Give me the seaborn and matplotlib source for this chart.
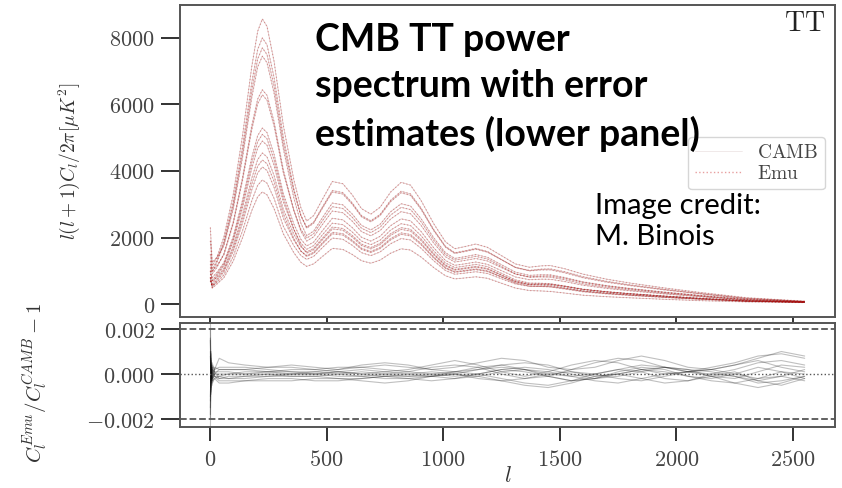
import matplotlib
matplotlib.use("Agg")
import matplotlib.pyplot as plt
from matplotlib.lines import Line2D
import seaborn as sns
import pandas as pd

ell = [2, 10, 30, 60, 100, 140, 180, 205, 225, 245, 275, 315, 360, 390, 415, 445, 480, 525, 570, 610,
       650, 690, 730, 775, 820, 860, 905, 960, 1010, 1050, 1095, 1140, 1190, 1250, 1310, 1370, 1420,
       1460, 1520, 1600, 1700, 1800, 1950, 2100, 2300, 2550]

# l(l+1)C_l/2pi [muK^2] for each parameter set (CAMB and Emu agree to ~1e-4 here)
tt_01 = [1900, 1150, 1400, 2014, 3282, 5065, 7156, 8201, 8570, 8347, 7302, 5365, 3733, 2898, 2494, 2660,
         3117, 3683, 3616, 3284, 2868, 2702, 2910, 3367, 3658, 3575, 3117, 2411, 1870, 1663, 1729, 1804,
         1704, 1455, 1205, 1106, 1147, 1156, 1064, 898, 748, 632, 482, 349, 190, 85]
tt_02 = [1500, 1050, 1300, 1880, 3064, 4728, 6680, 7656, 8000, 7792, 6816, 5008, 3461, 2668, 2280, 2432,
         2850, 3367, 3306, 3002, 2622, 2470, 2660, 3078, 3344, 3268, 2850, 2204, 1710, 1520, 1581, 1649,
         1558, 1330, 1102, 1011, 1049, 1056, 973, 821, 684, 578, 441, 319, 170, 80]
tt_03 = [1200, 950, 1250, 1810, 2949, 4551, 6430, 7369, 7700, 7500, 6560, 4820, 3388, 2657, 2310, 2464,
         2888, 3411, 3350, 3042, 2657, 2503, 2695, 3119, 3388, 3311, 2888, 2233, 1733, 1540, 1602, 1671,
         1579, 1338, 1097, 996, 1026, 1027, 941, 790, 658, 556, 424, 307, 160, 75]
tt_04 = [2300, 1250, 1400, 1751, 2853, 4403, 6221, 7130, 7450, 7256, 6347, 4664, 3190, 2433, 2056, 2193,
         2570, 3036, 2981, 2707, 2365, 2228, 2399, 2776, 3016, 2947, 2570, 1988, 1542, 1371, 1426, 1487,
         1405, 1181, 959, 862, 880, 877, 798, 666, 555, 469, 358, 259, 140, 70]
tt_05 = [1100, 900, 1100, 1513, 2467, 3806, 5377, 6163, 6440, 6273, 5487, 4031, 2815, 2192, 1893, 2020,
         2367, 2796, 2745, 2493, 2177, 2051, 2209, 2556, 2777, 2714, 2367, 1830, 1420, 1262, 1313, 1369,
         1294, 1096, 899, 816, 841, 842, 772, 648, 540, 456, 348, 252, 130, 70]
tt_06 = [1300, 1000, 1150, 1478, 2409, 3717, 5252, 6020, 6290, 6126, 5359, 3938, 2814, 2243, 1982, 2114,
         2477, 2926, 2873, 2609, 2279, 2147, 2312, 2675, 2906, 2840, 2477, 1915, 1486, 1321, 1374, 1433,
         1354, 1130, 908, 806, 815, 808, 731, 606, 505, 427, 326, 236, 120, 65]
tt_07 = [900, 800, 950, 1243, 2026, 3126, 4417, 5063, 5290, 5152, 4507, 3312, 2405, 1947, 1746, 1862,
         2182, 2578, 2531, 2299, 2008, 1891, 2037, 2357, 2560, 2502, 2182, 1688, 1309, 1164, 1210, 1263,
         1193, 1003, 814, 731, 747, 744, 678, 565, 471, 398, 304, 220, 115, 60]
tt_08 = [1000, 700, 900, 1199, 1953, 3014, 4259, 4881, 5100, 4967, 4345, 3193, 2244, 1760, 1530, 1632,
         1913, 2259, 2219, 2015, 1760, 1658, 1785, 2066, 2244, 2193, 1913, 1479, 1148, 1020, 1061, 1107,
         1046, 866, 688, 603, 605, 596, 535, 441, 367, 310, 237, 171, 95, 55]
tt_09 = [800, 600, 850, 1152, 1877, 2896, 4092, 4689, 4900, 4773, 4175, 3067, 2242, 1826, 1646, 1756,
         2058, 2431, 2387, 2168, 1893, 1784, 1921, 2223, 2415, 2360, 2058, 1592, 1235, 1098, 1142, 1191,
         1125, 924, 726, 630, 625, 610, 544, 445, 371, 313, 239, 173, 95, 55]
tt_10 = [1000, 700, 800, 1067, 1739, 2683, 3791, 4345, 4540, 4422, 3868, 2842, 2097, 1723, 1566, 1671,
         1958, 2313, 2271, 2062, 1801, 1697, 1827, 2115, 2297, 2245, 1958, 1514, 1175, 1044, 1086, 1133,
         1070, 873, 678, 580, 569, 552, 488, 395, 329, 278, 212, 153, 85, 50]
tt_11 = [700, 550, 750, 1018, 1658, 2559, 3616, 4144, 4330, 4217, 3689, 2711, 1969, 1594, 1429, 1524,
         1786, 2110, 2072, 1881, 1643, 1548, 1667, 1929, 2096, 2048, 1786, 1381, 1072, 953, 991, 1034,
         976, 815, 655, 581, 588, 583, 528, 437, 365, 308, 235, 170, 95, 55]
tt_12 = [800, 500, 700, 968, 1578, 2435, 3440, 3943, 4120, 4013, 3510, 2579, 1921, 1592, 1459, 1556,
         1823, 2154, 2115, 1920, 1677, 1580, 1702, 1969, 2139, 2091, 1823, 1410, 1094, 972, 1011, 1055,
         997, 813, 631, 540, 530, 514, 454, 368, 306, 259, 197, 143, 80, 50]
tt_13 = [700, 550, 650, 877, 1429, 2204, 3115, 3570, 3730, 3633, 3178, 2335, 1751, 1458, 1343, 1432,
         1679, 1983, 1947, 1768, 1544, 1455, 1567, 1813, 1969, 1925, 1679, 1298, 1007, 895, 931, 971,
         918, 760, 604, 530, 531, 522, 470, 387, 322, 272, 208, 150, 85, 50]
tt_14 = [800, 480, 600, 792, 1291, 1992, 2814, 3225, 3370, 3282, 2871, 2110, 1542, 1256, 1132, 1208,
         1415, 1672, 1642, 1491, 1302, 1227, 1321, 1528, 1661, 1623, 1415, 1094, 849, 755, 785, 819,
         774, 625, 480, 405, 393, 378, 331, 265, 221, 187, 142, 103, 65, 45]

# relative error Emu/CAMB - 1, in units of 1e-4
ell_res = [2, 5, 10, 20, 40, 80, 150, 250, 350, 450, 550, 650, 750, 850, 950, 1050, 1150, 1250, 1350, 1450,
           1550, 1650, 1750, 1850, 1950, 2050, 2150, 2250, 2350, 2450, 2550]
res_01 = [30, -8, 4, 2, 7, 5, 4, 3, 3, 2, 3, 3, 2, 1, 0, -1, 0, 2, 3, 2, 0, -2, -1, 1, 3, 2, -1, -2, 1, 4, 3]
res_02 = [-30, 9, -4, -2, -1, 0, 1, 1, 2, 2, 1, 0, 1, 2, 4, 6, 4, 1, -1, 1, 4, 6, 5, 2, 0, 1, 3, 5, 8, 9, 7]
res_03 = [15, -6, 3, -1, -3, -3, -3, -2, -2, -3, -3, -2, -1, -2, -3, -2, 0, 2, 1, -1, -3, -2, 0, 2, 1, -1, -3, -4, -2, 1, 0]
res_04 = [-18, 10, -5, 3, 2, 2, 2, 3, 4, 3, 2, 3, 4, 3, 2, 3, 5, 7, 6, 3, 2, 3, 6, 8, 6, 3, 2, 4, 6, 3, 1]
res_05 = [10, -4, 2, 1, -2, -2, -1, -1, 0, 0, 1, 0, -1, -1, 0, 1, 0, -2, -4, -5, -3, 0, 2, 1, -2, -3, -1, 1, -3, -5, -2]
res_06 = [-12, 5, -3, -2, -4, -4, -3, -3, -3, -2, -2, -3, -4, -3, -1, 0, -1, -3, -5, -6, -4, -1, 0, -2, -4, -3, 0, -1, -4, -3, -1]
res_07 = [20, -9, 5, 1, 1, 1, 0, 0, -1, -1, 0, 1, 0, -1, -1, 0, 2, 3, 2, 0, -1, 0, 2, 4, 3, 1, 0, 2, 5, 6, 4]
res_08 = [-20, 7, -3, 2, 3, 3, 3, 2, 1, 1, 2, 4, 5, 4, 2, 1, 2, 4, 5, 4, 1, -1, 0, 2, 3, 2, 1, -1, -3, -1, 2]
res_09 = [8, -3, 1, -1, -1, -2, -2, -1, -1, -1, -2, -2, -1, 0, 1, 0, -2, -3, -2, 0, 1, 0, -2, -3, -1, 1, 2, 0, -2, -1, -3]
res_10 = [-10, 4, -2, 0, 0, 0, 0, 1, 1, 0, -1, -1, 0, 1, 3, 4, 3, 0, -2, -1, 2, 5, 7, 6, 3, 1, 2, 4, 7, 10, 8]
res_11 = [16, -7, 3, 0, 2, 2, 2, 1, 0, 0, 1, 2, 1, 0, -1, -2, -1, 1, 2, 1, -1, -3, -4, -2, 0, 1, -1, -4, -6, -4, -1]
res_12 = [-15, 6, -2, -1, -2, -1, -1, 0, 0, 1, 0, -1, -2, -2, -1, 1, 3, 4, 2, -1, -3, -2, 1, 3, 2, -1, -2, 0, 3, 1, -2]

spectra = [tt_01, tt_02, tt_03, tt_04, tt_05, tt_06, tt_07, tt_08, tt_09, tt_10, tt_11, tt_12, tt_13, tt_14]
residuals = [res_01, res_02, res_03, res_04, res_05, res_06, res_07, res_08, res_09, res_10, res_11, res_12]

df_tt = pd.DataFrame([(i, l, v) for i, s in enumerate(spectra) for l, v in zip(ell, s)],
                     columns=["curve", "ell", "D"])
df_res = pd.DataFrame([(i, l, v * 1e-4) for i, r in enumerate(residuals) for l, v in zip(ell_res, r)],
                      columns=["curve", "ell", "res"])

sns.set_theme(style="ticks")
plt.rcParams["mathtext.fontset"] = "cm"
plt.rcParams["font.family"] = ["DejaVu Serif"]

fig = plt.figure(figsize=(8.42, 4.88), dpi=100)
ax1 = fig.add_axes([0.2138, 0.3504, 0.7779, 0.6394])
ax2 = fig.add_axes([0.2138, 0.1256, 0.7779, 0.2131])

# upper panel: spectra, CAMB thin solid + Emu dotted on top
sns.lineplot(data=df_tt, x="ell", y="D", units="curve", estimator=None, ax=ax1,
             color="#5a0000", lw=0.5, alpha=0.25, legend=False)
sns.lineplot(data=df_tt, x="ell", y="D", units="curve", estimator=None, ax=ax1,
             color="#c00000", lw=0.9, alpha=0.3, linestyle=":", legend=False)
ax1.set_xlim(-128, 2680)
ax1.set_ylim(-390, 8990)
ax1.set_yticks([0, 2000, 4000, 6000, 8000])
ax1.set_yticklabels([r"$%d$" % v for v in [0, 2000, 4000, 6000, 8000]])
ax1.set_xticks([0, 500, 1000, 1500, 2000, 2500])
ax1.set_xticklabels([])
ax1.set_xlabel("")
ax1.set_ylabel(r"$l(l+1)C_l/2\pi[\mu K^2]$", fontsize=14, color="#333333")
ax1.yaxis.set_label_coords(-0.15, 0.5)
ax1.text(0.985, 0.985, r"$\mathrm{TT}$", transform=ax1.transAxes, ha="right", va="top",
         fontsize=20, color="#222222")
handles = [Line2D([], [], color="#5a0000", lw=0.5, alpha=0.12),
           Line2D([], [], color="#d04040", lw=1.0, alpha=0.5, linestyle=":")]
leg = ax1.legend(handles, [r"$\mathrm{CAMB}$", r"$\mathrm{Emu}$"], loc="upper right",
                 bbox_to_anchor=(0.985, 0.577), borderaxespad=0, fontsize=14, frameon=True,
                 handlelength=2.4, borderpad=0.35, labelspacing=0.15, fancybox=True)
leg.get_frame().set_edgecolor("#cccccc")
for t in leg.get_texts():
    t.set_color("#444444")

# lower panel: relative error
sns.lineplot(data=df_res, x="ell", y="res", units="curve", estimator=None, ax=ax2,
             color="black", lw=0.8, alpha=0.25, legend=False)
ax2.axhline(0.002, color="#555555", lw=1.3, linestyle="--")
ax2.axhline(-0.002, color="#555555", lw=1.3, linestyle="--")
ax2.axhline(0.0, color="#555555", lw=1.0, linestyle=":")
ax2.set_xlim(-128, 2680)
ax2.set_ylim(-0.00234, 0.00228)
ax2.set_yticks([-0.002, 0.0, 0.002])
ax2.set_yticklabels([r"$%.3f$" % v for v in [-0.002, 0.0, 0.002]])
ax2.set_xticks([0, 500, 1000, 1500, 2000, 2500])
ax2.set_xticklabels([r"$%d$" % v for v in [0, 500, 1000, 1500, 2000, 2500]])
ax2.set_xlabel(r"$l$", fontsize=16, color="#333333")
ax2.xaxis.set_label_coords(0.5, -0.37)
ax2.set_ylabel(r"$C_l^{Emu}/C_l^{CAMB}-1$", fontsize=15, color="#333333")
ax2.yaxis.set_label_coords(-0.2, 0.42)

for ax in (ax1, ax2):
    for sp in ax.spines.values():
        sp.set_color("#555555")
        sp.set_linewidth(1.4)
        sp.set_visible(True)
    ax.tick_params(axis="y", direction="out", length=14, width=1.3, color="#222222",
                   labelsize=16, labelcolor="#444444", pad=4)
    ax.tick_params(axis="x", direction="out", length=10, width=1.3, color="#222222",
                   labelsize=16, labelcolor="#444444", pad=6)
    ax.grid(False)

# slide overlay text
fig.text(315 / 842, 1 - 23 / 488, "CMB TT power\nspectrum with error\nestimates (lower panel)",
         fontsize=27, fontweight="bold", family=["Lato", "DejaVu Sans"], ha="left", va="top",
         linespacing=1.42, color="black")
fig.text(595 / 842, 1 - 193 / 488, "Image credit:\nM. Binois", fontsize=21,
         family=["Lato", "DejaVu Sans"], ha="left", va="top", linespacing=1.25, color="black")

fig.savefig("out.png", dpi=100)
